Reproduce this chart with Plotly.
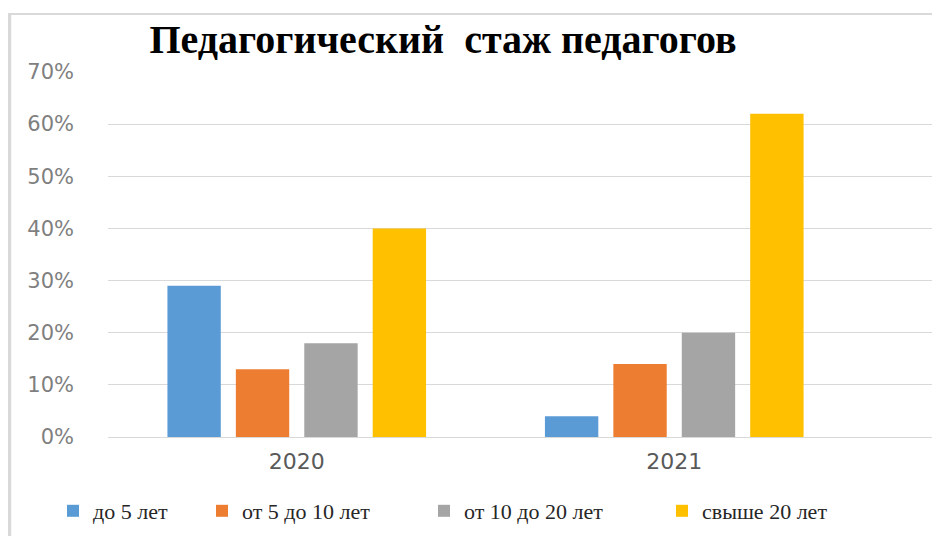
import plotly.graph_objects as go

categories = ["2020", "2021"]
series_names = ["до 5 лет", "от 5 до 10 лет", "от 10 до 20 лет", "свыше 20 лет"]
val_0_5 = [0.29, 0.04]
val_5_10 = [0.13, 0.14]
val_10_20 = [0.18, 0.20]
val_20_plus = [0.40, 0.62]
series_values = [val_0_5, val_5_10, val_10_20, val_20_plus]
colors = ["#5B9BD5", "#ED7D31", "#A5A5A5", "#FFC000"]
y_ticks = [0, 0.1, 0.2, 0.3, 0.4, 0.5, 0.6, 0.7]

W, H = 940, 536
OFF = 8  # page body margin
L, R, T, B = 100, 0, 64, 107
PW, PH = W - L - R, H - T - B
CAT_W = 377.5
x_hi = -0.5 + PW / CAT_W
legend_symbol_left = [68, 217, 439, 677]  # page px of each legend entry


def px_x(page_x):
    return (page_x - OFF - L) / PW


def px_y(page_y):
    return (H - B - (page_y - OFF)) / PH


fig = go.Figure()
legend_ids = ["legend", "legend2", "legend3", "legend4"]
for name, vals, col, lid in zip(series_names, series_values, colors, legend_ids):
    fig.add_trace(go.Bar(
        x=categories, y=vals, name=name, legend=lid, showlegend=True,
        marker=dict(color=col, line=dict(width=0)),
        hoverinfo="x+y+name",
    ))

legend_font = dict(family="Liberation Serif, Times New Roman, serif", size=22, color="#262626")
legend_layouts = {}
for lid, sx in zip(legend_ids, legend_symbol_left):
    legend_layouts[lid] = dict(
        orientation="h", x=px_x(sx - 15), xanchor="left",
        y=px_y(511), yanchor="middle",
        font=legend_font, bgcolor="rgba(0,0,0,0)",
    )

fig.update_layout(
    width=W, height=H,
    margin=dict(l=L, r=R, t=T, b=B),
    paper_bgcolor="white", plot_bgcolor="white",
    showlegend=True,
    barmode="group", bargap=0.275, bargroupgap=0.22,
    title=dict(
        text="<b>Педагогический  стаж педагогов</b>",
        font=dict(family="Liberation Serif, Times New Roman, serif", size=40, color="#000000"),
        x=px_x(443), xref="paper", xanchor="center",
        y=1 - (39 - OFF) / H, yref="container", yanchor="middle",
    ),
    xaxis=dict(
        type="category", range=[-0.5, x_hi],
        showgrid=False, showline=True, linecolor="#D9D9D9", linewidth=1,
        ticks="", tickfont=dict(family="DejaVu Sans, sans-serif", size=22, color="#595959"),
        ticklabelstandoff=5,
    ),
    yaxis=dict(
        range=[0, 0.7], tickvals=y_ticks, tickformat=".0%",
        showgrid=True, gridcolor="#D9D9D9", gridwidth=1,
        zeroline=False, showline=False, ticks="",
        tickfont=dict(family="DejaVu Sans, sans-serif", size=21, color="#7F7F7F"),
        ticklabelstandoff=33,
    ),
    shapes=[
        dict(type="line", xref="paper", yref="paper",
             x0=px_x(9.5), x1=px_x(9.5), y0=px_y(13), y1=px_y(560),
             line=dict(color="#D9D9D9", width=3.5)),
        dict(type="line", xref="paper", yref="paper",
             x0=px_x(8), x1=px_x(960), y0=px_y(14), y1=px_y(14),
             line=dict(color="#D9D9D9", width=2)),
    ],
    **legend_layouts,
)

fig.write_html("out.html")
